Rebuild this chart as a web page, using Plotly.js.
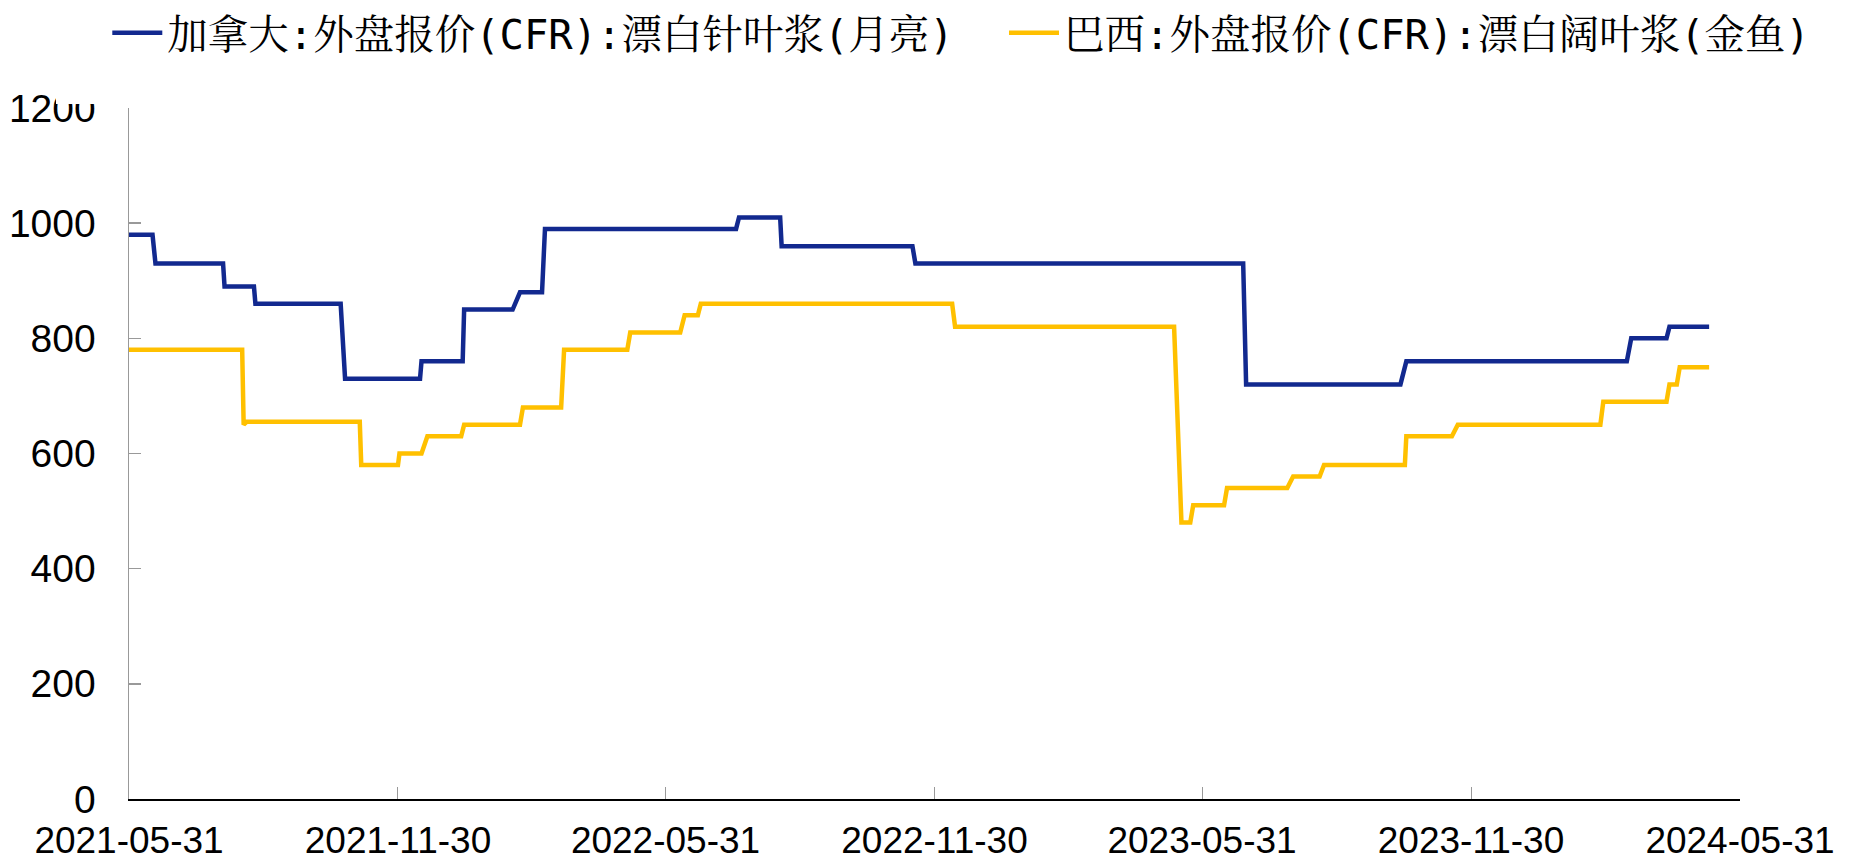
<!DOCTYPE html>
<html><head><meta charset="utf-8">
<script src="https://cdn.plot.ly/plotly-3.0.1.min.js"></script>
<style>html,body{margin:0;padding:0;background:#fff;overflow:hidden}#chart{width:1850px;height:863px}</style>
</head><body><div id="chart"></div>
<script>
// ---- data ----
const canadaName = "加拿大:外盘报价(CFR):漂白针叶浆(月亮)";
const brazilName = "巴西:外盘报价(CFR):漂白阔叶浆(金鱼)";

const canadaDates = [
  "2021-05-31","2021-06-16","2021-06-18","2021-08-03","2021-08-04","2021-08-24","2021-08-25",
  "2021-10-22","2021-10-25","2021-12-15","2021-12-16","2022-01-13","2022-01-14","2022-02-16",
  "2022-02-21","2022-03-08","2022-03-10","2022-07-18","2022-07-20","2022-08-17","2022-08-18",
  "2022-11-15","2022-11-17","2023-06-28","2023-06-30","2023-10-13","2023-10-17","2024-03-15",
  "2024-03-18","2024-04-11","2024-04-13","2024-05-10"
];
const canadaValues = [
  980,980,930,930,890,890,860,
  860,730,730,760,760,850,850,
  880,880,990,990,1010,1010,960,
  960,930,930,720,720,760,760,
  800,800,820,820
];

const brazilDates = [
  "2021-05-31","2021-08-16","2021-08-17","2021-08-19","2021-11-04","2021-11-05","2021-11-30",
  "2021-12-01","2021-12-16","2021-12-20","2022-01-12","2022-01-14","2022-02-21","2022-02-23",
  "2022-03-21","2022-03-23","2022-05-05","2022-05-07","2022-06-10","2022-06-13","2022-06-22",
  "2022-06-24","2022-12-12","2022-12-14","2023-05-12","2023-05-17","2023-05-23","2023-05-25",
  "2023-06-15","2023-06-17","2023-07-28","2023-08-01","2023-08-19","2023-08-22","2023-10-16",
  "2023-10-17","2023-11-17","2023-11-21","2024-02-26","2024-02-28","2024-04-11","2024-04-13",
  "2024-04-18","2024-04-20","2024-05-10"
];
const brazilValues = [
  780,780,650,655,655,580,580,
  600,600,630,630,650,650,680,
  680,780,780,810,810,840,840,
  860,860,820,820,480,480,510,
  510,540,540,560,560,580,580,
  630,630,650,650,690,690,720,
  720,750,750
];

const xTickVals = ["2021-05-31","2021-11-30","2022-05-31","2022-11-30","2023-05-31","2023-11-30","2024-05-31"];
const xTickText = ["2021-05-31","2021-11-30","2022-05-31","2022-11-30","2023-05-31","2023-11-30","2024-05-31"];
const yTickVals = [0,200,400,600,800,1000,1200];

// ---- chart ----
const W = 1850, H = 863;
const M = {l:129, r:110, t:108, b:64};
const plotH = H - M.t - M.b;
const py = px => (H - M.b - px) / plotH;          // pixel -> paper y
const pxX = px => (px - M.l) / (W - M.l - M.r);   // pixel -> paper x

const yTickFont = {family:"'Liberation Sans', Arial, sans-serif", size:39, color:"#000"};
const xTickFont = {family:"'Liberation Sans', Arial, sans-serif", size:37, color:"#000"};
const legendFont = {family:"'DejaVu Sans Mono','Noto Serif CJK SC','Noto Sans CJK SC',serif", size:40.5, color:"#000"};

const traces = [
  {x: canadaDates, y: canadaValues, name: canadaName, type:"scatter", mode:"lines",
   line:{color:"#12298F", width:4.5}, legend:"legend"},
  {x: brazilDates, y: brazilValues, name: brazilName, type:"scatter", mode:"lines",
   line:{color:"#FFC000", width:4.5}, legend:"legend2"}
];

const legendBase = {
  orientation:"h", xref:"container", yref:"container",
  y: 1.0, xanchor:"left", yanchor:"top",
  font: legendFont, itemwidth: 50,
  bgcolor:"rgba(0,0,0,0)", borderwidth:0
};

const layout = {
  width: W, height: H,
  margin: M,
  paper_bgcolor:"#fff", plot_bgcolor:"#fff",
  showlegend: true,
  legend: Object.assign({}, legendBase, {x: 0.058}),
  legend2: Object.assign({}, legendBase, {x: 0.5427}),
  xaxis: {
    type:"date", range:["2021-05-31","2024-05-31"],
    tickmode:"array", tickvals:xTickVals, ticktext:xTickText,
    ticks:"inside", ticklen:12, tickwidth:1, tickcolor:"#999",
    showline:true, linecolor:"#000", linewidth:2,
    showgrid:false, zeroline:false, tickfont:xTickFont, ticklabelstandoff:8,
    fixedrange:true
  },
  yaxis: {
    range:[0,1200], tickmode:"array", tickvals:yTickVals,
    ticks:"inside", ticklen:12, tickwidth:1.5, tickcolor:"#999",
    showline:true, linecolor:"#999", linewidth:1.5,
    showgrid:false, zeroline:false, tickfont:yTickFont, ticklabelstandoff:24,
    fixedrange:true
  },
  shapes: [
    {type:"rect", xref:"paper", yref:"paper", layer:"above",
     x0:pxX(56), x1:pxX(127), y0:py(104), y1:py(0),
     fillcolor:"#fff", line:{width:0}}
  ]
};

Plotly.newPlot("chart", traces, layout, {displayModeBar:false, staticPlot:true});
</script>
</body></html>
